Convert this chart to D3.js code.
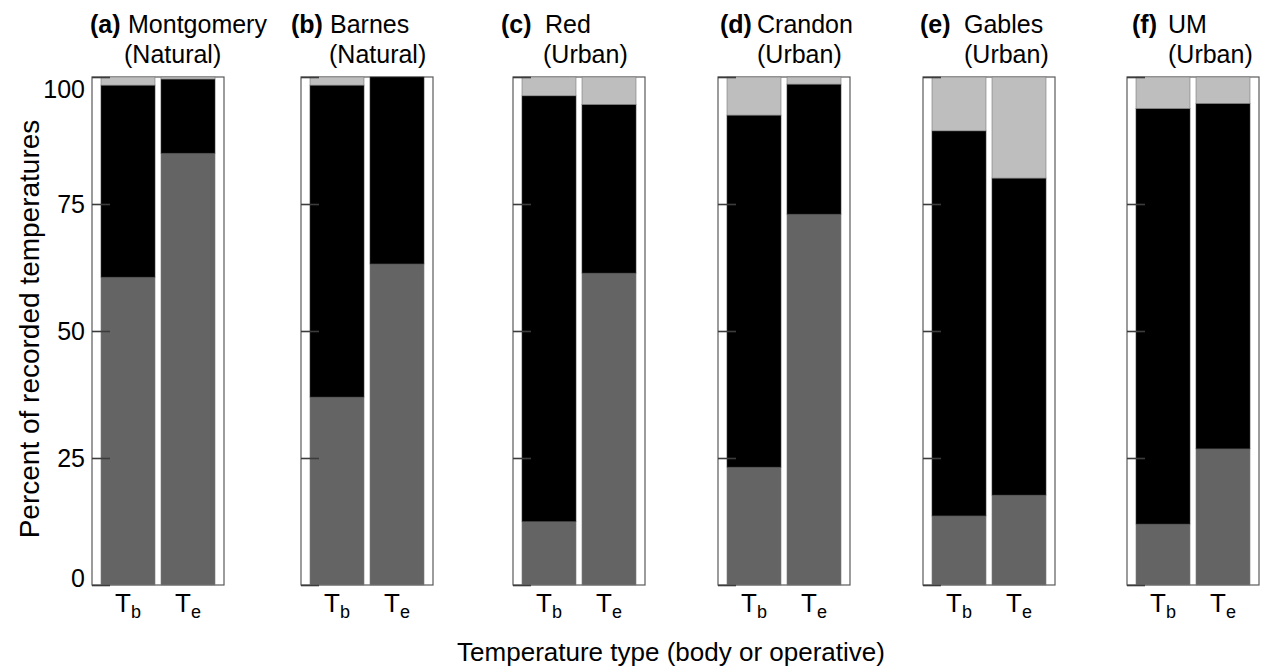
<!DOCTYPE html>
<html>
<head>
<meta charset="utf-8">
<script src="https://cdn.jsdelivr.net/npm/d3@7"></script>
<style>
  html, body { margin: 0; padding: 0; background: #fff; }
  svg { display: block; font-family: "Liberation Sans", Arial, sans-serif; }
</style>
</head>
<body>
<svg id="chart" width="1265" height="668"></svg>
<script>
// ---------- data ----------
const panelLetters = ["(a)", "(b)", "(c)", "(d)", "(e)", "(f)"];
const sites = ["Montgomery", "Barnes", "Red", "Crandon", "Gables", "UM"];
const habitats = ["Natural", "Natural", "Urban", "Urban", "Urban", "Urban"];
const tempTypes = ["b", "e"];            // T_b (body), T_e (operative)
const categories = ["below", "within", "above"];
// percent of recorded temperatures, per site
const belowTb  = [60.6, 37.0, 12.5, 23.2, 13.6, 12.0];
const withinTb = [37.8, 61.4, 83.8, 69.3, 75.8, 81.8];
const aboveTb  = [1.6, 1.6, 3.7, 7.5, 10.6, 6.2];
const belowTe  = [85.0, 63.2, 61.4, 73.0, 17.7, 26.8];
const withinTe = [14.6, 36.8, 33.2, 25.6, 62.4, 68.0];
const aboveTe  = [0.4, 0.0, 5.4, 1.4, 19.9, 5.2];
const yTicks = [0, 25, 50, 75, 100];
const yTitle = "Percent of recorded temperatures";
const xTitle = "Temperature type (body or operative)";

// ---------- layout ----------
const panelLeft = [92, 301, 513, 718, 923, 1127];
const panelWidth = 132;
const labelX = [90, 291, 501, 720, 920, 1132];
const nameX = [128, 330, 545, 757, 964, 1168];
const line2X = [124, 329, 543, 757, 964, 1168];
const colors = { below: "#646464", within: "#000000", above: "#bebebe" };

const svg = d3.select("#chart");
const y = d3.scaleLinear().domain([0, 100]).range([585, 77]);
const xIn = d3.scaleBand().domain(tempTypes).range([0, panelWidth])
  .paddingInner(0.1).paddingOuter(0.15);

const rows = sites.map((s, i) => ({
  site: s, letter: panelLetters[i], habitat: habitats[i],
  bars: [
    { type: "b", below: belowTb[i], within: withinTb[i], above: aboveTb[i] },
    { type: "e", below: belowTe[i], within: withinTe[i], above: aboveTe[i] }
  ]
}));
const stack = d3.stack().keys(categories);

rows.forEach((row, i) => {
  const g = svg.append("g").attr("transform", `translate(${panelLeft[i]},0)`);
  const series = stack(row.bars);
  // frame
  g.append("rect")
    .attr("x", 0).attr("y", y(100))
    .attr("width", panelWidth).attr("height", y(0) - y(100))
    .attr("fill", "none").attr("stroke", "#5a5a5a").attr("stroke-width", 1.2);
  // stacked bars
  series.forEach(s => {
    g.selectAll(null).data(s).join("rect")
      .attr("x", d => xIn(d.data.type))
      .attr("width", xIn.bandwidth())
      .attr("y", d => y(d[1]))
      .attr("height", d => Math.max(0, y(d[0]) - y(d[1])))
      .attr("fill", colors[s.key])
      .attr("stroke", s.key === "within" ? "#3a3a3a" : "#7a7a7a")
      .attr("stroke-width", 0.6);
  });
  // axis (ticks inward)
  const axis = d3.axisLeft(y).tickValues(yTicks).tickSize(-18).tickSizeOuter(0)
    .tickPadding(7).tickFormat(i === 0 ? d3.format("d") : () => "");
  const ax = g.append("g").call(axis);
  ax.select(".domain").remove();
  ax.selectAll(".tick line").attr("stroke", "#3c3c3c").attr("stroke-width", 1.6);
  ax.selectAll(".tick text")
    .attr("font-size", 25).attr("fill", "#000")
    .attr("font-family", "Liberation Sans, Arial, sans-serif")
    .attr("dy", d => d === 100 ? "0.8em" : d === 0 ? "0.05em" : "0.35em");
  // x labels T_b / T_e
  row.bars.forEach(b => {
    const t = g.append("text")
      .attr("x", xIn(b.type) + xIn.bandwidth() / 2)
      .attr("y", 612)
      .attr("text-anchor", "middle")
      .attr("font-size", 26).attr("fill", "#000");
    t.append("tspan").text("T");
    t.append("tspan").text(b.type).attr("font-size", 18).attr("dy", 6);
  });
  // titles
  svg.append("text").attr("x", labelX[i]).attr("y", 33)
    .attr("font-size", 25).attr("font-weight", "bold").text(row.letter);
  svg.append("text").attr("x", nameX[i]).attr("y", 33)
    .attr("font-size", 25).text(row.site);
  svg.append("text").attr("x", line2X[i]).attr("y", 63)
    .attr("font-size", 25).text(`(${row.habitat})`);
});

// axis titles
svg.append("text")
  .attr("transform", "translate(39,329) rotate(-90)")
  .attr("text-anchor", "middle").attr("font-size", 28).text(yTitle);
svg.append("text")
  .attr("x", 671).attr("y", 661)
  .attr("text-anchor", "middle").attr("font-size", 26).text(xTitle);
</script>
</body>
</html>
